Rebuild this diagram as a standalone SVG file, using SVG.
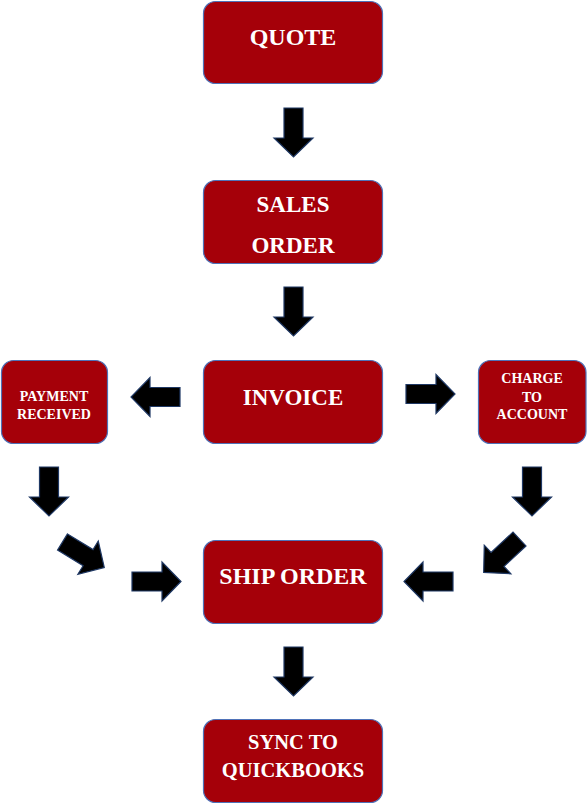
<svg xmlns="http://www.w3.org/2000/svg" xmlns:xlink="http://www.w3.org/1999/xlink" width="588" height="804" viewBox="0 0 588 804">
<style>
.box{fill:#a50009;stroke:#4f72b8;stroke-width:1.2}
.t{font-family:"Liberation Serif","Times New Roman",serif;font-weight:bold;fill:#ffffff;text-anchor:middle}
.arr{fill:#000000;stroke:#1f3864;stroke-width:1.2;stroke-linejoin:miter}
</style>
<defs>
<path id="arr" class="arr" d="M0,-9.5 H30 V-19.5 L49,0 L30,19.5 V9.5 H0 Z"/>
</defs>
<rect width="588" height="804" fill="#ffffff"/>
<g id="connectors">
<use xlink:href="#arr" href="#arr" transform="translate(293.5,108) rotate(90)"/>
<use xlink:href="#arr" href="#arr" transform="translate(293.5,287) rotate(90)"/>
<use xlink:href="#arr" href="#arr" transform="translate(180,397) rotate(180)"/>
<use xlink:href="#arr" href="#arr" transform="translate(406,394)"/>
<use xlink:href="#arr" href="#arr" transform="translate(49,467) rotate(90)"/>
<use xlink:href="#arr" href="#arr" transform="translate(532,467) rotate(90)"/>
<use xlink:href="#arr" href="#arr" transform="translate(62.5,542) rotate(31.5)"/>
<use xlink:href="#arr" href="#arr" transform="translate(519.5,539) rotate(137)"/>
<use xlink:href="#arr" href="#arr" transform="translate(132,581.5)"/>
<use xlink:href="#arr" href="#arr" transform="translate(453,581.5) rotate(180)"/>
<use xlink:href="#arr" href="#arr" transform="translate(293.5,647) rotate(90)"/>
</g>
<g id="quote">
<rect class="box" x="203.5" y="1.5" width="179" height="82" rx="12"/>
<text class="t" x="293" y="45" font-size="24">QUOTE</text>
</g>
<g id="sales-order">
<rect class="box" x="203.5" y="180.5" width="179" height="83" rx="12"/>
<text class="t" x="293" y="212" font-size="23">SALES</text>
<text class="t" x="293" y="253" font-size="23">ORDER</text>
</g>
<g id="invoice">
<rect class="box" x="203.5" y="360.5" width="179" height="83" rx="12"/>
<text class="t" x="293" y="405" font-size="23">INVOICE</text>
</g>
<g id="payment-received">
<rect class="box" x="1.5" y="360.5" width="106" height="83" rx="12"/>
<text class="t" x="54" y="401" font-size="14">PAYMENT</text>
<text class="t" x="54" y="419" font-size="14">RECEIVED</text>
</g>
<g id="charge-to-account">
<rect class="box" x="478.5" y="360.5" width="107.5" height="83" rx="12"/>
<text class="t" x="532" y="383" font-size="14">CHARGE</text>
<text class="t" x="532" y="402" font-size="14">TO</text>
<text class="t" x="532" y="419" font-size="14">ACCOUNT</text>
</g>
<g id="ship-order">
<rect class="box" x="203.5" y="540.5" width="179" height="83" rx="12"/>
<text class="t" x="293" y="584" font-size="24">SHIP ORDER</text>
</g>
<g id="sync-to-quickbooks">
<rect class="box" x="203.5" y="719.5" width="179" height="83" rx="12"/>
<text class="t" x="293" y="749" font-size="20.5">SYNC TO</text>
<text class="t" x="293" y="777" font-size="20.5">QUICKBOOKS</text>
</g>
</svg>
